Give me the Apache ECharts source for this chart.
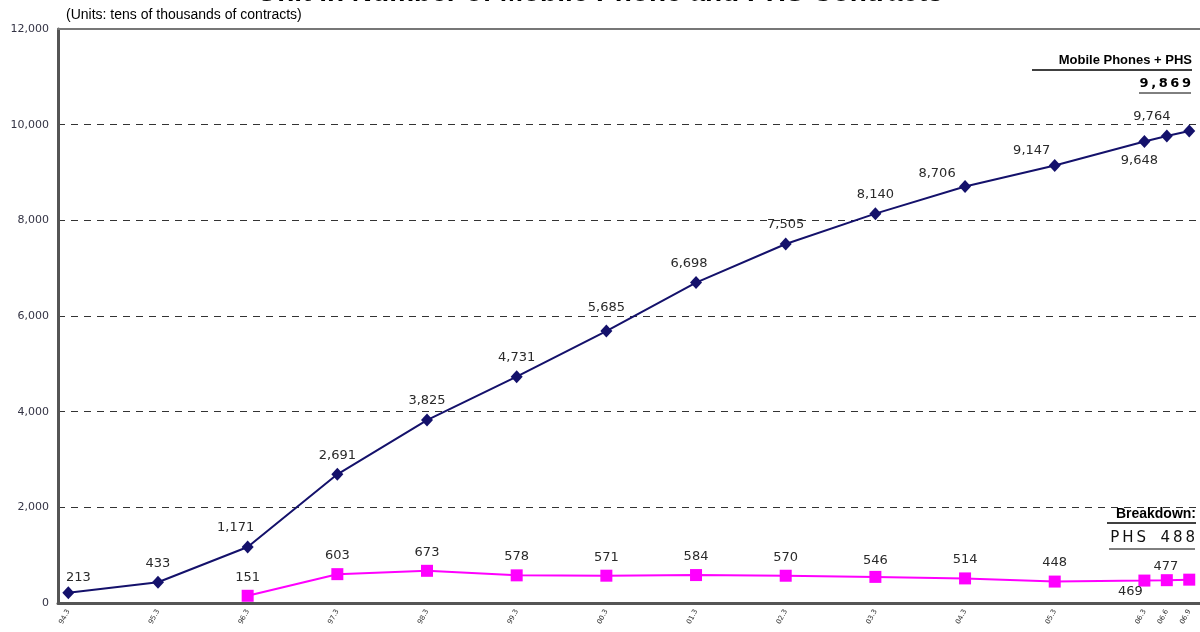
<!DOCTYPE html>
<html>
<head>
<meta charset="utf-8">
<title>Unit in Number of Mobile Phone and PHS Contracts</title>
<script src="https://cdn.jsdelivr.net/npm/echarts@6/dist/echarts.min.js"></script>
<style>
  html, body { margin: 0; padding: 0; background: #fff; }
  #chart { width: 1200px; height: 632px; }
</style>
</head>
<body>
<div id="chart"></div>
<script>
// Fiscal periods (YY.M), contract counts in tens of thousands
const periods = ['94.3', '95.3', '96.3', '97.3', '98.3', '99.3', '00.3', '01.3', '02.3', '03.3', '04.3', '05.3', '06.3', '06.6', '06.9'];
const totalContracts = [213, 433, 1171, 2691, 3825, 4731, 5685, 6698, 7505, 8140, 8706, 9147, 9648, 9764, 9869];
const phsContracts = [null, null, 151, 603, 673, 578, 571, 584, 570, 546, 514, 448, 469, 477, 488];
const yTicks = [0, 2000, 4000, 6000, 8000, 10000, 12000];

// Convert "YY.M" into years elapsed since March 1994
function periodToX(p) {
  const parts = p.split('.').map(Number);
  const year = parts[0] < 50 ? parts[0] + 100 : parts[0];
  return (year - 94) + (parts[1] - 3) / 12;
}
const xs = periods.map(periodToX);

// Label placement tweaks per point index
const totalLabelTweaks = {
  0: { offset: [10, 4] },
  2: { offset: [-12, 0] },
  6: { offset: [0, -4] },
  7: { offset: [-7, 0] },
  10: { offset: [-28, 6] },
  11: { offset: [-23, 4] },
  12: { position: 'bottom', offset: [-5, 0] },
  13: { offset: [-15, 0] },
  14: { show: false }
};
const phsLabelTweaks = {
  9: { offset: [0, 2] },
  12: { position: 'bottom', offset: [-14, -7] },
  13: { offset: [-1, 5] },
  14: { show: false }
};

const fmt = v => v.toLocaleString('en-US');

function buildData(values, tweaks) {
  const out = [];
  values.forEach((v, i) => {
    if (v == null) return;
    const item = { value: [xs[i], v] };
    if (tweaks[i]) item.label = tweaks[i];
    out.push(item);
  });
  return out;
}

const labelFont = {
  fontFamily: 'DejaVu Sans',
  fontSize: 13,
  color: '#2a2a2a',
  distance: 6,
  formatter: p => fmt(p.value[1])
};

const chart = echarts.init(document.getElementById('chart'), null, { renderer: 'canvas' });

const textBase = { fontFamily: 'Liberation Sans', fill: '#000' };
const spaced = s => s.split('').join('\u2009');

chart.setOption({
  animation: false,
  backgroundColor: '#fff',
  grid: { left: 58, right: 0, top: 29, bottom: 29 },
  xAxis: [
    {
      type: 'value',
      min: -0.115,
      max: 12.62,
      axisLine: { show: true, onZero: false, lineStyle: { color: '#555', width: 3 } },
      axisTick: { show: false },
      splitLine: { show: false },
      axisLabel: {
        customValues: xs,
        formatter: v => {
          const i = xs.findIndex(x => Math.abs(x - v) < 1e-6);
          return i >= 0 ? periods[i] : '';
        },
        rotate: 62,
        fontSize: 7,
        fontFamily: 'DejaVu Sans',
        color: '#333',
        margin: 7
      }
    },
    {
      type: 'value',
      position: 'top',
      min: -0.115,
      max: 12.62,
      axisLine: { show: true, onZero: false, lineStyle: { color: '#777', width: 2 } },
      axisTick: { show: false },
      axisLabel: { show: false },
      splitLine: { show: false }
    }
  ],
  yAxis: {
    type: 'value',
    min: yTicks[0],
    max: yTicks[yTicks.length - 1],
    interval: yTicks[1] - yTicks[0],
    axisLine: { show: true, onZero: false, lineStyle: { color: '#555', width: 3 } },
    axisTick: { show: false },
    axisLabel: {
      formatter: v => fmt(v),
      fontSize: 11,
      fontFamily: 'DejaVu Sans',
      color: '#333344',
      margin: 9
    },
    splitLine: { show: true, lineStyle: { color: '#333', width: 1, type: [7, 6] } }
  },
  series: [
    {
      name: 'Mobile Phones + PHS',
      type: 'line',
      data: buildData(totalContracts, totalLabelTweaks),
      symbol: 'diamond',
      symbolSize: [12, 13],
      itemStyle: { color: '#14116b' },
      lineStyle: { color: '#14116b', width: 2 },
      label: Object.assign({ show: true, position: 'top' }, labelFont),
      z: 3
    },
    {
      name: 'PHS',
      type: 'line',
      data: buildData(phsContracts, phsLabelTweaks),
      symbol: 'rect',
      symbolSize: 12,
      itemStyle: { color: '#ff00ff' },
      lineStyle: { color: '#ff00ff', width: 2 },
      label: Object.assign({ show: true, position: 'top' }, labelFont),
      z: 3
    }
  ],
  graphic: [
    {
      type: 'text', left: 'center', top: -21,
      style: Object.assign({}, textBase, {
        text: 'Unit in Number of Mobile Phone and PHS Contracts',
        fontSize: 28, fontWeight: 'bold'
      })
    },
    {
      type: 'text', left: 66, top: 8,
      style: Object.assign({}, textBase, {
        text: '(Units: tens of thousands of contracts)',
        fontSize: 14
      })
    },
    // Total callout, top right
    {
      type: 'text', right: 8, top: 54,
      style: Object.assign({}, textBase, {
        text: 'Mobile Phones + PHS', fontSize: 13, fontWeight: 'bold'
      })
    },
    { type: 'line', shape: { x1: 1032, y1: 70, x2: 1192, y2: 70 }, style: { stroke: '#000', lineWidth: 1.5 } },
    {
      type: 'text', right: 9, top: 77,
      style: {
        text: spaced(fmt(totalContracts[totalContracts.length - 1])),
        fontSize: 13, fontWeight: 'bold', fontFamily: 'DejaVu Sans', fill: '#000'
      }
    },
    { type: 'line', shape: { x1: 1139, y1: 93, x2: 1191, y2: 93 }, style: { stroke: '#000', lineWidth: 1 } },
    // Breakdown callout, lower right
    {
      type: 'text', right: 4, top: 507,
      style: Object.assign({}, textBase, {
        text: 'Breakdown:', fontSize: 14, fontWeight: 'bold'
      })
    },
    { type: 'line', shape: { x1: 1107, y1: 523, x2: 1196, y2: 523 }, style: { stroke: '#000', lineWidth: 1.5 } },
    {
      type: 'text', right: 5, top: 531,
      style: {
        text: spaced('PHS') + '   ' + spaced(String(phsContracts[phsContracts.length - 1])),
        fontSize: 15, fontFamily: 'DejaVu Sans', fill: '#111'
      }
    },
    { type: 'line', shape: { x1: 1109, y1: 549, x2: 1195, y2: 549 }, style: { stroke: '#000', lineWidth: 1 } }
  ]
});
</script>
</body>
</html>
